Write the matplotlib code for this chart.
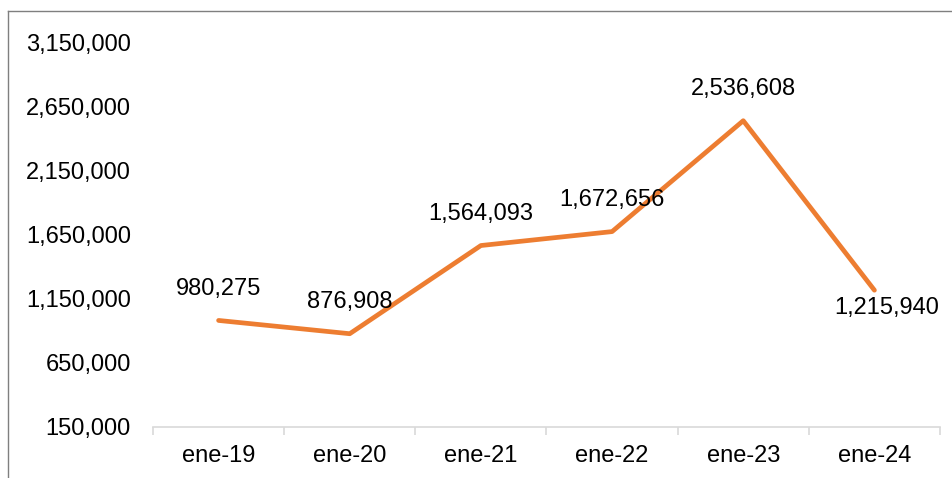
import matplotlib
matplotlib.use("Agg")
import matplotlib.pyplot as plt
from matplotlib.lines import Line2D
from matplotlib.ticker import FuncFormatter

categories = ["ene-19", "ene-20", "ene-21", "ene-22", "ene-23", "ene-24"]
values = [980275, 876908, 1564093, 1672656, 2536608, 1215940]
yticks = [150000, 650000, 1150000, 1650000, 2150000, 2650000, 3150000]

plt.rcParams['font.family'] = ['Liberation Sans', 'DejaVu Sans']
FS = 17

W, H = 953, 478
fig = plt.figure(figsize=(W / 100, H / 100), dpi=100)
ax = fig.add_axes([153 / W, (H - 427) / H, (940 - 153) / W, (427 - 42) / H])

x = list(range(len(categories)))
ax.plot(x, values, color='#ED7D31', lw=3.4, solid_capstyle='round', solid_joinstyle='round')

ax.set_xlim(-0.5, len(categories) - 0.5)
ax.set_ylim(150000, 3150000)
ax.set_yticks(yticks)
ax.yaxis.set_major_formatter(FuncFormatter(lambda v, p: f"{int(v):,}"))
ax.set_xticks(x)
ax.set_xticklabels(categories)
ax.set_xticks([i - 0.5 for i in range(len(categories) + 1)], minor=True)

for s in ['top', 'right', 'left']:
    ax.spines[s].set_visible(False)
ax.spines['bottom'].set_color('#D9D9D9')
ax.spines['bottom'].set_linewidth(1.2)
ax.tick_params(axis='y', length=0, pad=16, labelsize=FS)
ax.tick_params(axis='x', which='major', length=0, pad=13, labelsize=FS)
ax.tick_params(axis='x', which='minor', length=6, color='#D9D9D9', width=1.2)

offsets = [(0, 23), (0, 23), (0, 23), (0, 23), (0, 23), (9, -13)]
for xi, v, (dx, dy) in zip(x, values, offsets):
    ax.annotate(f"{v:,}", (xi, v), xytext=(dx, dy), textcoords='offset points',
                ha='center', va='center', fontsize=FS, color='black')

# partial border
fig.add_artist(Line2D([8 / W, 8 / W], [0, 1 - 11 / H], transform=fig.transFigure, color='#7F7F7F', lw=1))
fig.add_artist(Line2D([8 / W, 1], [1 - 11 / H, 1 - 11 / H], transform=fig.transFigure, color='#7F7F7F', lw=1))

fig.savefig("out.png", dpi=100)
